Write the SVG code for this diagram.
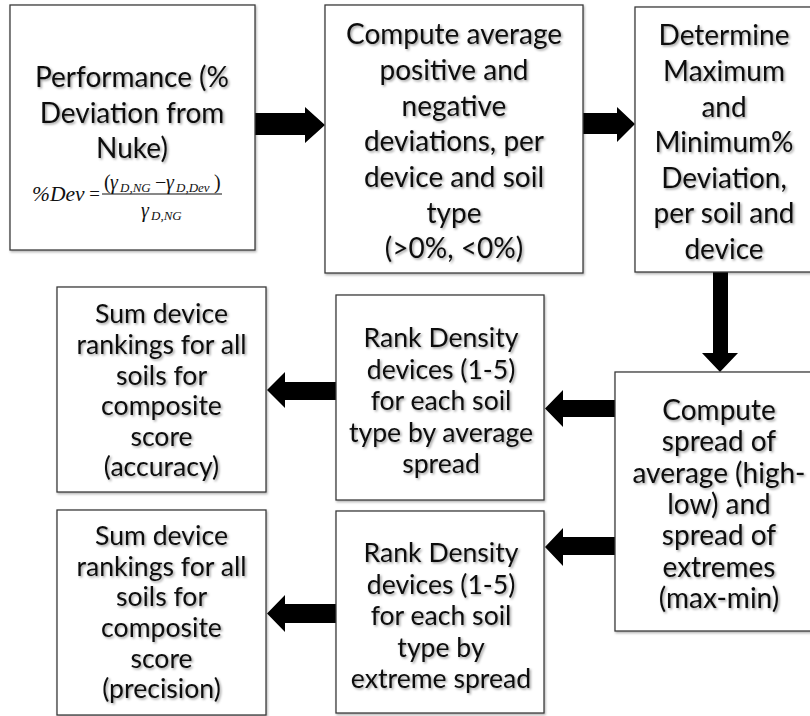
<svg xmlns="http://www.w3.org/2000/svg" width="810" height="716" viewBox="0 0 810 716">
  <defs>
    <filter id="tshadow" x="-10%" y="-30%" width="120%" height="160%">
      <feDropShadow dx="1.5" dy="1.5" stdDeviation="1.1" flood-color="#000" flood-opacity="0.38"/>
    </filter>
    <filter id="bshadow" x="-5%" y="-5%" width="110%" height="110%">
      <feDropShadow dx="1" dy="1.5" stdDeviation="1" flood-color="#000" flood-opacity="0.3"/>
    </filter>
  </defs>
  <style>
    .box { fill: #fff; stroke: #3c3c3c; stroke-width: 1.3; filter: url(#bshadow); }
    .t { font-family: Lato, "Open Sans", sans-serif; font-size: 28px; text-anchor: middle; fill: #111; filter: url(#tshadow); }
    .s { font-size: 26.6px; }
    .m { font-family: "Liberation Serif", "Times New Roman", serif; font-style: italic; fill: #111; }
    .arrow { fill: #000; }
  </style>

  <rect width="810" height="716" fill="#fff"/>

  <!-- connectors: block arrows -->
  <g id="connectors">
    <polygon class="arrow" points="255,113 305,113 305,107 325,125 305,143 305,135 255,135"/>
    <polygon class="arrow" points="583,113 617,113 617,107 635,124 617,142 617,134 583,134"/>
    <polygon class="arrow" points="713,272 728,272 728,353 738,353 720,372 702,353 713,353"/>
    <polygon class="arrow" points="615,400 563,400 563,390 545,408.5 563,427 563,417 615,417"/>
    <polygon class="arrow" points="615,537 563,537 563,528 545,547 563,566 563,555 615,555"/>
    <polygon class="arrow" points="336,382 285,382 285,372 267,390 285,408 285,400 336,400"/>
    <polygon class="arrow" points="336,604 285,604 285,595 267,613.5 285,632 285,623 336,623"/>
  </g>

  <g id="performance">
    <rect class="box" x="10" y="5" width="245" height="245"/>
    <text class="t" x="132" y="87">Performance (%</text>
    <text class="t" x="132" y="123">Deviation from</text>
    <text class="t" x="132" y="158">Nuke)</text>
    <g id="formula">
      <text class="m" x="32" y="201" font-size="21.5">%Dev</text>
      <text class="m" x="88" y="200" font-size="19" font-style="normal">=</text>
      <line x1="102" y1="194" x2="222" y2="194" stroke="#111" stroke-width="1"/>
      <text class="m" font-size="20" y="189"><tspan x="104" font-style="normal">(</tspan><tspan x="110">γ</tspan><tspan x="120" y="192" font-size="13">D,NG</tspan><tspan x="155" y="189" font-style="normal">−</tspan><tspan x="166">γ</tspan><tspan x="176" y="192" font-size="13">D,Dev</tspan><tspan x="214" y="189" font-style="normal">)</tspan></text>
      <text class="m" font-size="20" y="217"><tspan x="141">γ</tspan><tspan x="151" y="220" font-size="13">D,NG</tspan></text>
    </g>
  </g>

  <g id="average-deviations">
    <rect class="box" x="325" y="5" width="258" height="268"/>
    <text class="t" x="454" y="44">Compute average</text>
    <text class="t" x="454" y="80">positive and</text>
    <text class="t" x="454" y="115.5">negative</text>
    <text class="t" x="454" y="151">deviations, per</text>
    <text class="t" x="454" y="187">device and soil</text>
    <text class="t" x="454" y="222.5">type</text>
    <text class="t" x="454" y="258">(&gt;0%, &lt;0%)</text>
  </g>

  <g id="max-min">
    <rect class="box" x="635" y="7" width="180" height="265"/>
    <text class="t" x="724" y="45">Determine</text>
    <text class="t" x="724" y="81">Maximum</text>
    <text class="t" x="724" y="117">and</text>
    <text class="t" x="724" y="152">Minimum%</text>
    <text class="t" x="724" y="188">Deviation,</text>
    <text class="t" x="724" y="223">per soil and</text>
    <text class="t" x="724" y="259">device</text>
  </g>

  <g id="spread">
    <rect class="box" x="615" y="372" width="212" height="259"/>
    <text class="t" x="719" y="420">Compute</text>
    <text class="t" x="719" y="451">spread of</text>
    <text class="t" x="719" y="483">average (high-</text>
    <text class="t" x="719" y="514">low) and</text>
    <text class="t" x="719" y="545">spread of</text>
    <text class="t" x="719" y="577">extremes</text>
    <text class="t" x="719" y="608">(max-min)</text>
  </g>

  <g id="rank-average">
    <rect class="box" x="336" y="295" width="208" height="205"/>
    <text class="t s" x="441" y="347">Rank Density</text>
    <text class="t s" x="441" y="378.5">devices (1-5)</text>
    <text class="t s" x="441" y="410">for each soil</text>
    <text class="t s" x="441" y="441.5">type by average</text>
    <text class="t s" x="441" y="473">spread</text>
  </g>

  <g id="rank-extreme">
    <rect class="box" x="336" y="511" width="208" height="202"/>
    <text class="t s" x="441" y="562">Rank Density</text>
    <text class="t s" x="441" y="593.5">devices (1-5)</text>
    <text class="t s" x="441" y="625">for each soil</text>
    <text class="t s" x="441" y="656.5">type by</text>
    <text class="t s" x="441" y="688">extreme spread</text>
  </g>

  <g id="sum-accuracy">
    <rect class="box" x="57" y="287" width="209" height="205"/>
    <text class="t s" x="161.5" y="323">Sum device</text>
    <text class="t s" x="161.5" y="354">rankings for all</text>
    <text class="t s" x="161.5" y="384.5">soils for</text>
    <text class="t s" x="161.5" y="415">composite</text>
    <text class="t s" x="161.5" y="446">score</text>
    <text class="t s" x="161.5" y="476">(accuracy)</text>
  </g>

  <g id="sum-precision">
    <rect class="box" x="57" y="510" width="209" height="205"/>
    <text class="t s" x="161.5" y="545">Sum device</text>
    <text class="t s" x="161.5" y="575.5">rankings for all</text>
    <text class="t s" x="161.5" y="606">soils for</text>
    <text class="t s" x="161.5" y="637">composite</text>
    <text class="t s" x="161.5" y="667.5">score</text>
    <text class="t s" x="161.5" y="698">(precision)</text>
  </g>
</svg>
